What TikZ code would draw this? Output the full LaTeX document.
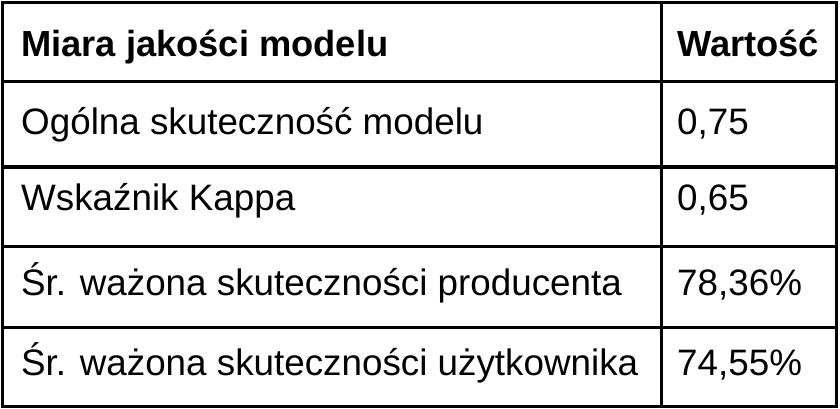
\documentclass[tikz,border=0pt]{standalone}
\usepackage{fontspec}
\setmainfont{Liberation Sans}

\tikzset{
  cell/.style={anchor=base west, inner sep=0pt, font=\fontsize{36.8}{40}\selectfont},
  head/.style={cell, font=\fontsize{36.3}{40}\selectfont\bfseries},
  rule/.style={line width=3.8pt, line cap=rect}
}

\begin{document}
\begin{tikzpicture}[x=1pt, y=-1pt]

  \newcommand\LX{21};   % left column text
  \newcommand\RX{677};  % right column text

  \useasboundingbox (0,0) rectangle (840,409);

  %% header
  \node[head] (h1) at (\LX, 57) {Miara jakości modelu};
  \node[head] (h2) at (\RX, 57) {Wartość};

  %% rows
  \node[cell] (m1) at (\LX, 135) {Ogólna skuteczność modelu};
  \node[cell] (v1) at (\RX, 135) {0,75};
  \node[cell] (m2) at (\LX, 210) {Wskaźnik Kappa};
  \node[cell] (v2) at (\RX, 210) {0,65};
  \node[cell] (m3) at (\LX, 295) {Śr. ważona skuteczności producenta};
  \node[cell] (v3) at (\RX, 295) {78,36\%};
  \node[cell] (m4) at (\LX, 375) {Śr. ważona skuteczności użytkownika};
  \node[cell] (v4) at (\RX, 375) {74,55\%};

  %% grid
  \draw[rule] (2.5, 2.5) rectangle (836.5, 406.5);
  \draw[rule] (661.5, 2.5) -- (661.5, 406.5);
  \foreach \y in {81.5, 167, 246.5, 327.5}
    \draw[rule] (2.5, \y) -- (836.5, \y);

\end{tikzpicture}
\end{document}
